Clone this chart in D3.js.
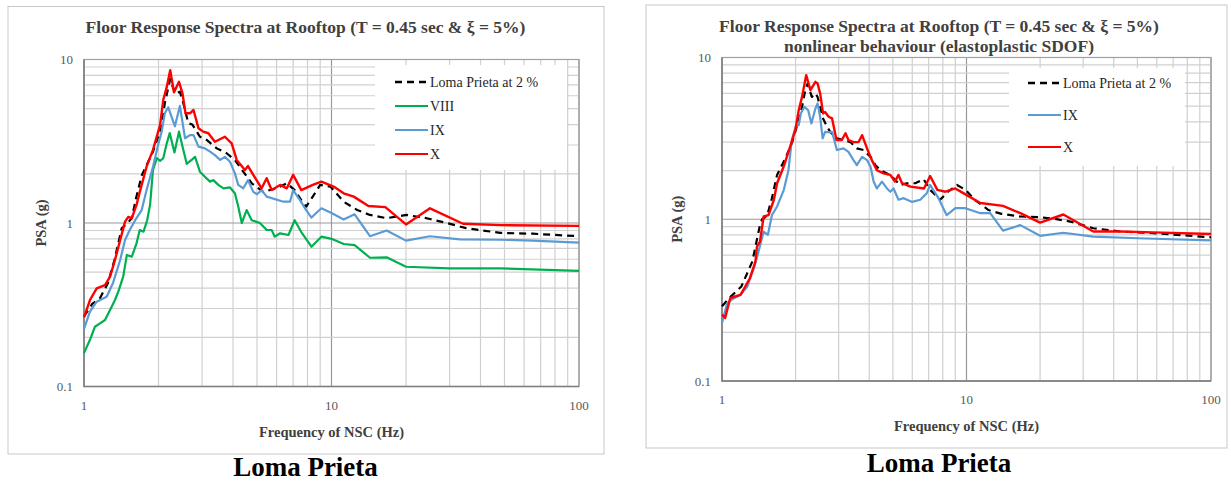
<!DOCTYPE html>
<html>
<head>
<meta charset="utf-8">
<script src="https://cdn.jsdelivr.net/npm/d3@7"></script>
<style>
  body { margin: 0; background: #fff; }
  svg { display: block; font-family: "Liberation Serif", "Times New Roman", serif; }
</style>
</head>
<body>
<svg id="fig" width="1231" height="484"></svg>
<script>
// values: [frequency (Hz), PSA (g)]
var linLoma = [[1.0,0.268],[1.08,0.32],[1.16,0.347],[1.25,0.43],[1.33,0.6],[1.42,0.928],[1.5,1.0],[1.56,1.07],[1.62,1.4],[1.71,1.95],[1.8,2.3],[1.9,2.73],[2.06,3.88],[2.12,5.4],[2.23,7.6],[2.33,6.2],[2.44,6.35],[2.52,5.4],[2.64,4.07],[2.74,4.0],[2.94,3.37],[3.13,3.22],[3.44,2.86],[3.77,2.67],[4.07,2.43],[4.4,2.06],[4.76,1.75],[5.3,1.55],[6.0,1.63],[6.6,1.75],[7.1,1.59],[7.55,1.38],[7.9,1.26],[8.4,1.45],[9.0,1.71],[9.9,1.67],[11.2,1.35],[12.7,1.2],[14.3,1.12],[16.7,1.07],[20.1,1.12],[24.2,1.07],[29.2,1.0],[35,0.93],[48,0.87],[65,0.86],[100,0.83]];
var linVIII = [[1.0,0.16],[1.057,0.193],[1.107,0.232],[1.16,0.243],[1.216,0.255],[1.274,0.294],[1.334,0.338],[1.376,0.38],[1.44,0.47],[1.49,0.638],[1.56,0.622],[1.63,0.751],[1.68,0.906],[1.74,0.885],[1.8,1.04],[1.85,1.3],[1.9,2.11],[1.97,2.49],[2.03,2.4],[2.09,2.49],[2.16,3.07],[2.22,3.55],[2.32,2.7],[2.42,3.62],[2.52,2.8],[2.6,2.3],[2.72,2.43],[2.81,2.54],[2.94,2.06],[3.08,1.92],[3.23,1.79],[3.33,1.83],[3.49,1.71],[3.66,1.63],[3.89,1.65],[4.07,1.52],[4.2,1.26],[4.34,1.0],[4.54,1.2],[4.76,1.04],[5.14,1.0],[5.47,0.906],[5.73,0.906],[5.9,0.825],[6.2,0.865],[6.7,0.845],[7.1,1.04],[7.55,0.88],[8.3,0.716],[9.1,0.825],[10,0.8],[11.2,0.744],[12.4,0.733],[14.3,0.613],[16.7,0.617],[20,0.54],[30,0.528],[48,0.528],[100,0.51]];
var linIX = [[1.0,0.225],[1.057,0.287],[1.125,0.33],[1.235,0.354],[1.31,0.43],[1.4,0.594],[1.465,0.787],[1.53,0.906],[1.61,1.04],[1.71,1.2],[1.79,1.59],[1.9,2.21],[2.0,3.07],[2.06,3.62],[2.12,4.69],[2.19,5.1],[2.33,3.9],[2.44,5.2],[2.56,3.3],[2.68,3.45],[2.77,3.45],[2.9,2.93],[3.08,2.86],[3.23,2.73],[3.38,2.6],[3.55,2.43],[3.71,2.54],[3.89,2.37],[4.07,2.01],[4.2,1.71],[4.4,1.63],[4.6,1.83],[4.83,1.55],[5.0,1.5],[5.22,1.59],[5.47,1.45],[6.4,1.35],[6.8,1.35],[7.0,1.59],[7.46,1.38],[7.9,1.2],[8.3,1.08],[9.1,1.23],[10,1.15],[11.2,1.05],[12.4,1.13],[14.3,0.83],[16.7,0.9],[20,0.78],[25,0.83],[33,0.795],[48,0.79],[65,0.78],[100,0.758]];
var linX = [[1.0,0.265],[1.057,0.338],[1.125,0.398],[1.216,0.417],[1.274,0.47],[1.334,0.594],[1.4,0.787],[1.465,1.02],[1.51,1.09],[1.56,1.07],[1.63,1.29],[1.68,1.55],[1.79,2.21],[1.9,2.8],[2.03,3.98],[2.09,5.65],[2.16,6.8],[2.23,8.6],[2.31,6.3],[2.42,7.3],[2.5,6.2],[2.57,4.69],[2.68,4.69],[2.77,4.91],[2.9,3.8],[3.03,3.62],[3.18,3.54],[3.38,3.14],[3.71,3.37],[3.95,3.07],[4.14,2.43],[4.47,2.11],[4.6,2.23],[4.83,1.97],[5.22,1.63],[5.47,1.88],[5.73,1.59],[6.2,1.71],[6.6,1.63],[7.0,1.97],[7.55,1.59],[8.4,1.71],[9.1,1.79],[10.2,1.67],[11.2,1.52],[12.3,1.45],[14.1,1.27],[16.5,1.25],[20,0.98],[25,1.23],[34,0.99],[48,0.97],[100,0.96]];

var nlLoma = [[1.0,0.29],[1.08,0.33],[1.2,0.384],[1.33,0.547],[1.43,0.92],[1.46,1.0],[1.53,1.05],[1.6,1.35],[1.68,1.88],[1.815,2.38],[1.93,2.94],[2.03,3.82],[2.125,4.95],[2.19,6.28],[2.24,6.9],[2.33,5.71],[2.41,6.0],[2.46,5.7],[2.52,4.95],[2.59,4.2],[2.69,3.73],[2.77,3.47],[2.95,3.16],[3.14,3.09],[3.35,3.0],[3.56,2.74],[3.79,2.68],[4.05,2.43],[4.24,2.16],[4.44,2.01],[4.73,1.92],[5.03,1.79],[5.36,1.63],[5.7,1.67],[6.17,1.67],[6.67,1.77],[7.1,1.52],[7.8,1.32],[8.4,1.48],[9.14,1.63],[9.9,1.52],[10.8,1.32],[12.3,1.14],[13.9,1.08],[16.6,1.04],[19.5,1.03],[22.7,1.01],[26.6,0.967],[33,0.88],[42.6,0.84],[58,0.82],[100,0.774]];
var nlIX = [[1.0,0.228],[1.05,0.303],[1.12,0.325],[1.19,0.341],[1.27,0.384],[1.35,0.498],[1.41,0.63],[1.48,0.838],[1.54,0.8],[1.6,1.06],[1.68,1.2],[1.79,1.52],[1.87,2.01],[1.93,3.09],[2.0,3.73],[2.06,3.82],[2.1,4.51],[2.17,4.95],[2.25,4.73],[2.32,3.91],[2.41,4.84],[2.46,5.2],[2.52,4.3],[2.58,3.16],[2.64,3.47],[2.73,3.45],[2.82,3.47],[2.95,2.68],[3.14,2.74],[3.29,2.61],[3.45,2.32],[3.56,2.16],[3.74,2.43],[3.92,2.32],[4.05,2.11],[4.17,1.71],[4.3,1.55],[4.51,1.71],[4.73,1.55],[4.88,1.48],[5.03,1.55],[5.27,1.32],[5.53,1.35],[6.0,1.28],[6.47,1.32],[6.88,1.45],[7.1,1.63],[7.68,1.35],[8.3,1.06],[9.0,1.17],[9.9,1.17],[11.4,1.09],[12.5,1.09],[14.1,0.85],[16.6,0.92],[20,0.79],[24.9,0.825],[33,0.78],[50,0.763],[100,0.74]];
var nlX = [[1.0,0.257],[1.03,0.245],[1.08,0.325],[1.13,0.333],[1.19,0.341],[1.245,0.384],[1.3,0.432],[1.37,0.547],[1.39,0.678],[1.43,0.727],[1.48,1.04],[1.55,1.06],[1.63,1.32],[1.68,1.67],[1.786,2.11],[1.9,2.81],[1.995,3.56],[2.06,4.73],[2.125,5.71],[2.21,7.78],[2.3,6.28],[2.41,7.07],[2.46,6.9],[2.52,6.0],[2.59,4.51],[2.64,4.6],[2.73,4.3],[2.82,4.2],[2.94,3.09],[3.09,3.09],[3.2,3.4],[3.29,3.09],[3.45,3.0],[3.62,3.0],[3.74,3.31],[3.92,2.74],[4.1,2.32],[4.3,2.01],[4.58,1.92],[4.88,1.88],[5.1,1.71],[5.27,1.88],[5.45,1.67],[5.9,1.59],[6.7,1.55],[7.1,1.85],[7.6,1.52],[8.2,1.48],[9.0,1.55],[9.7,1.45],[11.4,1.26],[14.1,1.21],[16.6,1.09],[20,0.953],[24.9,1.07],[33,0.84],[42.6,0.84],[58,0.83],[100,0.81]];

var xDomain = [1, 100];
var yDomain = [0.1, 10];
var xTickLabels = ["1", "10", "100"];
var yTickLabels = ["0.1", "1", "10"];
var seriesNames = ["Loma Prieta at 2 %", "VIII", "IX", "X"];
var colors = {"Loma Prieta at 2 %": "#000000", "VIII": "#00b050", "IX": "#5b9bd5", "X": "#ff0000"};

var svg = d3.select('#fig');

var isDecade = function(v){
  var l = Math.log10(v);
  return Math.abs(l - Math.round(l)) < 1e-9;
};

var drawPanel = function(p){
  var g = svg.append('g');

  g.append('rect')
    .attr('x', p.frame[0]).attr('y', p.frame[1])
    .attr('width', p.frame[2]).attr('height', p.frame[3])
    .attr('fill', '#fff').attr('stroke', '#c8c8c8');

  var x = d3.scaleLog().domain(xDomain).range([p.left, p.right]);
  var y = d3.scaleLog().domain(yDomain).range([p.bottom, p.top]);

  // minor then major grid
  var xt = x.ticks().sort(function(a,b){ return isDecade(a) - isDecade(b); });
  var yt = y.ticks().sort(function(a,b){ return isDecade(a) - isDecade(b); });
  g.selectAll('.gx').data(xt).enter().append('line')
    .attr('x1', function(d){ return x(d); }).attr('x2', function(d){ return x(d); })
    .attr('y1', p.top).attr('y2', p.bottom)
    .attr('stroke', function(d){ return isDecade(d) ? '#999999' : '#d0d0d0'; })
    .attr('stroke-width', 1.2);
  g.selectAll('.gy').data(yt).enter().append('line')
    .attr('y1', function(d){ return y(d); }).attr('y2', function(d){ return y(d); })
    .attr('x1', p.left).attr('x2', p.right)
    .attr('stroke', function(d){ return isDecade(d) ? '#999999' : '#d0d0d0'; })
    .attr('stroke-width', 1.2);

  g.append('rect')
    .attr('x', p.left).attr('y', p.top)
    .attr('width', p.right - p.left).attr('height', p.bottom - p.top)
    .attr('fill', 'none').attr('stroke', '#a0a0a0').attr('stroke-width', 1.2);
  g.append('path')
    .attr('d', 'M' + p.left + ',' + p.top + 'V' + p.bottom + 'H' + p.right)
    .attr('fill', 'none').attr('stroke', '#7f7f7f').attr('stroke-width', 1.5);

  // legend box hides the grid behind it
  g.append('rect')
    .attr('x', p.legend.x).attr('y', p.legend.y)
    .attr('width', p.legend.w).attr('height', p.legend.h)
    .attr('fill', '#fff');

  // tick labels
  g.selectAll('.tx').data(xTickLabels).enter().append('text')
    .attr('x', function(d){ return x(+d); })
    .attr('y', p.bottom + p.xTickDy)
    .attr('text-anchor', 'middle')
    .attr('font-size', 13).attr('fill', '#595959')
    .text(function(d){ return d; });
  g.selectAll('.ty').data(yTickLabels).enter().append('text')
    .attr('x', p.left - 11)
    .attr('y', function(d){ return y(+d) + 4.5; })
    .attr('text-anchor', 'end')
    .attr('font-size', 13).attr('fill', '#595959')
    .text(function(d){ return d; });

  // series
  var line = d3.line()
    .x(function(d){ return x(d[0]); })
    .y(function(d){ return y(d[1]); });
  p.series.forEach(function(s){
    g.append('path')
      .datum(s.data)
      .attr('d', line)
      .attr('fill', 'none')
      .attr('stroke', colors[s.name])
      .attr('stroke-width', s.name === 'X' ? 2.4 : 2.2)
      .attr('stroke-dasharray', s.dashed ? '7,5' : null)
      .attr('stroke-linejoin', 'round');
  });

  // legend entries
  p.series.forEach(function(s, i){
    var ly = p.legend.ey + i * p.legend.step;
    g.append('line')
      .attr('x1', p.legend.lx).attr('x2', p.legend.lx + 33)
      .attr('y1', ly).attr('y2', ly)
      .attr('stroke', colors[s.name])
      .attr('stroke-width', s.dashed ? 2.6 : 2.2)
      .attr('stroke-dasharray', s.dashed ? '7,5' : null);
    g.append('text')
      .attr('x', p.legend.lx + 35).attr('y', ly + 5)
      .attr('font-size', 14).attr('fill', '#262626')
      .text(s.name);
  });

  // titles
  p.title.forEach(function(t, i){
    g.append('text')
      .attr('x', p.cx).attr('y', p.titleY + i * 20)
      .attr('text-anchor', 'middle')
      .attr('font-size', 17.5).attr('font-weight', 'bold').attr('fill', '#404040')
      .text(t);
  });
  g.append('text')
    .attr('x', (p.left + p.right) / 2).attr('y', p.xTitleY)
    .attr('text-anchor', 'middle')
    .attr('font-size', 14.5).attr('font-weight', 'bold').attr('fill', '#404040')
    .text('Frequency of NSC (Hz)');
  g.append('text')
    .attr('transform', 'translate(' + p.yTitleX + ',' + ((p.top + p.bottom) / 2) + ') rotate(-90)')
    .attr('text-anchor', 'middle')
    .attr('font-size', 14.5).attr('font-weight', 'bold').attr('fill', '#404040')
    .text('PSA (g)');

  // caption under the panel
  svg.append('text')
    .attr('x', p.cx).attr('y', p.captionY)
    .attr('text-anchor', 'middle')
    .attr('font-size', 27).attr('font-weight', 'bold').attr('fill', '#000')
    .text('Loma Prieta');
};

drawPanel({
  frame: [8, 6.5, 596, 447.5],
  left: 84, right: 579, top: 59.5, bottom: 386.5,
  cx: 305.5,
  title: ['Floor Response Spectra at Rooftop (T = 0.45 sec & \u03be = 5%)'],
  titleY: 33,
  xTickDy: 23, xTitleY: 437, yTitleX: 46,
  captionY: 476,
  legend: {x: 375, y: 65, w: 192, h: 105, lx: 395, ey: 82, step: 24},
  series: [
    {name: seriesNames[0], data: linLoma, dashed: true},
    {name: seriesNames[1], data: linVIII},
    {name: seriesNames[2], data: linIX},
    {name: seriesNames[3], data: linX}
  ]
});

drawPanel({
  frame: [646, 5, 581, 443],
  left: 722, right: 1211, top: 57.5, bottom: 381,
  cx: 939,
  title: ['Floor Response Spectra at Rooftop (T = 0.45 sec & \u03be = 5%)', 'nonlinear behaviour (elastoplastic SDOF)'],
  titleY: 32,
  xTickDy: 23, xTitleY: 431, yTitleX: 682,
  captionY: 472,
  legend: {x: 1009, y: 68, w: 176, h: 98, lx: 1028, ey: 83, step: 32},
  series: [
    {name: seriesNames[0], data: nlLoma, dashed: true},
    {name: seriesNames[2], data: nlIX},
    {name: seriesNames[3], data: nlX}
  ]
});
</script>
</body>
</html>
